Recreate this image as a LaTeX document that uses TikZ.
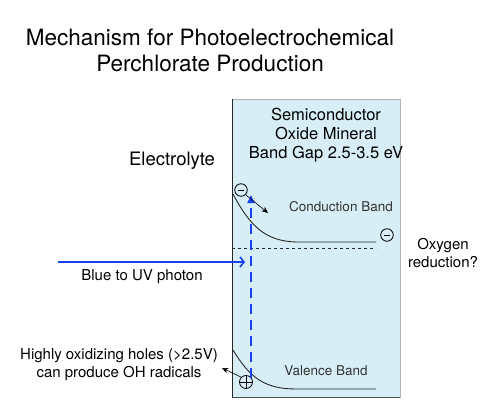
\documentclass[tikz,border=0pt]{standalone}
\usepackage{fontspec}
\setmainfont{TeX Gyre Heros}
\usetikzlibrary{arrows.meta,positioning}
\definecolor{mineral}{RGB}{216,238,246}
\definecolor{photon}{RGB}{22,64,240}
\definecolor{band}{RGB}{40,40,40}
\tikzset{
  lbl/.style={align=center,inner sep=0pt,font=\fontsize{15}{18}\selectfont},
  bandlbl/.style={inner sep=0pt,text=black!80,font=\fontsize{13.5}{16}\selectfont},
  mineralbox/.style={draw=gray!60,fill=mineral,minimum width=168pt,minimum height=298pt,inner sep=0pt},
  sign/.style={circle,draw,thick,minimum size=12.5pt,inner sep=0pt,fill=mineral},
  minus/.style={sign,path picture={\draw[thick]
    ([xshift=-3pt]path picture bounding box.center) -- ([xshift=3pt]path picture bounding box.center);}},
  plus/.style={sign,minimum size=13pt,path picture={\draw[semithick]
    (path picture bounding box.west) -- (path picture bounding box.east)
    (path picture bounding box.north) -- (path picture bounding box.south);}},
  photonflow/.style={-{Straight Barb[length=4pt,width=10pt]},line width=1.6pt,draw=photon},
  excite/.style={-{Triangle[length=8pt,width=7pt]},line width=2.8pt,draw=photon,dash pattern=on 10pt off 6pt},
  carrier/.style={-{Stealth[length=6.5pt,width=5.5pt]},semithick}
}
\begin{document}
\begin{tikzpicture}[x=1pt,y=-1pt]
  \useasboundingbox (0,0) rectangle (490,420);
  \node[lbl,font=\fontsize{22.5}{26}\selectfont] (title) at (210,50)
    {Mechanism for Photoelectrochemical\\Perchlorate Production};

  \node[mineralbox] (minbox) at (316,248) {};
  \draw[black!85,semithick] (minbox.north west) -- (minbox.south west);
  \draw[black!70] (minbox.south west) -- (minbox.south east);
  \node[lbl,font=\fontsize{16.5}{19}\selectfont] (semi) at (326,135)
    {Semiconductor\\Oxide Mineral\\Band Gap 2.5-3.5 eV};
  \node[lbl,font=\fontsize{18.5}{22}\selectfont] (electrolyte) at (172,161) {Electrolyte};

  % bands
  \draw[band,line width=0.9pt] (233,194) .. controls (250,226) and (265,241) .. (296,242) -- (376,242);
  \draw[band,line width=0.9pt] (233,350) .. controls (250,378) and (265,389) .. (296,389) -- (376,389);
  \draw[band,dash pattern=on 3pt off 3pt] (232,248) -- (376,248);
  \node[bandlbl] (cb) at (341,207) {Conduction Band};
  \node[bandlbl] (vb) at (326,371) {Valence Band};

  % carriers
  \node[minus] (e1) at (241,190) {};
  \node[minus] (e2) at (387,235) {};
  \node[plus] (h1) at (246,382) {};
  \coordinate (cbtip) at (251,195);
  \coordinate (relax) at (268,213);
  \coordinate (holeout) at (222,368);
  \draw[excite] (h1.north) ++(5pt,-3pt) coordinate (vbfoot) (vbfoot) -- (cbtip);
  \draw[carrier] (e1.south east) -- (relax);
  \draw[carrier] (h1.north west) -- (holeout);

  % photon
  \coordinate (photonstart) at (58,262);
  \coordinate (photonend) at (245,262);
  \draw[photonflow] (photonstart) -- (photonend);
  \node[lbl] (photonlbl) at (142,277) {Blue to UV photon};

  \node[lbl] (oxygen) at (443,253) {Oxygen\\reduction?};
  \node[lbl] (holes) at (119,365) {Highly oxidizing holes (>2.5V)\\can produce OH radicals};
\end{tikzpicture}
\end{document}
